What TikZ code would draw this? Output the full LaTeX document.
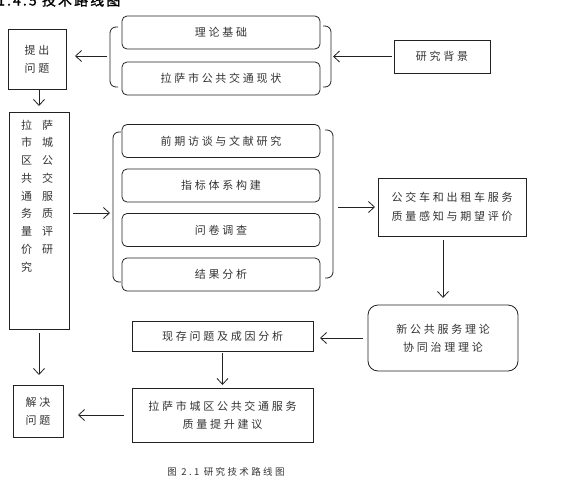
\documentclass[tikz,border=0pt]{standalone}
\usepackage{fontspec}
\setmainfont{Noto Sans CJK SC}[LetterSpace=25]
\newfontfamily\titlefont{Noto Sans CJK SC}[FakeBold=1.5,LetterSpace=15]
\usetikzlibrary{arrows.meta}
\definecolor{ink}{HTML}{222222}
\definecolor{txt}{HTML}{333333}
\tikzset{
  box/.style={draw=ink, line width=0.8pt, inner sep=0pt, outer sep=0pt, align=center, text=txt, font=\fontsize{11}{18}\selectfont},
  sbox/.style={box},
  rbox/.style={box, rounded corners=5pt},
  arr/.style={draw=ink, line width=0.8pt, -{Straight Barb[length=6pt,width=11pt]}},
  brk/.style={draw=ink, line width=0.8pt, rounded corners=6pt},
}
\begin{document}
\begin{tikzpicture}[x=1pt,y=-1pt]
\useasboundingbox (0,0) rectangle (574,482);
\begin{scope}
\clip (0,0) rectangle (574,482);
\node[anchor=base west, inner sep=0pt, text=black, font=\titlefont\fontsize{14}{18}\selectfont] (title) at (-3,5.5) {1.4.5 技术路线图};
\end{scope}
% top group
\node[sbox, minimum width=58, minimum height=60] (q1) at (37,59) {提出\\问题};
\node[rbox, minimum width=198, minimum height=33] (rb1) at (221,32.5) {理论基础};
\node[rbox, minimum width=198, minimum height=33] (rb2) at (221,78.5) {拉萨市公共交通现状};
\node[sbox, minimum width=96, minimum height=33] (bg) at (442,56.5) {研究背景};
\draw[brk] (118,27) -- (110,27) -- (110,87) -- (118,87);
\draw[brk] (323,26) -- (331,26) -- (331,87) -- (323,87);
\coordinate (L1) at (110,56);
\coordinate (R1) at (331,56.5);
\draw[arr, shorten <=2pt, shorten >=2pt] (bg.west) -- (R1);
\draw[arr, shorten <=3pt, shorten >=9pt] (L1) -- (L1 -| q1.east);
% big box
\node[sbox, minimum width=60, minimum height=217] (big) at (39,220.5) {};
\node[anchor=west, inner sep=0pt, align=left, text=txt, font=\fontsize{11}{17.75}\selectfont] (bigtext) at (21,196)
 {拉\hspace{10pt}萨\\市\hspace{10pt}城\\区\hspace{10pt}公\\共\hspace{10pt}交\\通\hspace{10pt}服\\务\hspace{10pt}质\\量\hspace{10pt}评\\价\hspace{10pt}研\\究};
\draw[arr, shorten >=6pt] (big.north |- q1.south) -- (big.north);
% middle group
\node[rbox, minimum width=198, minimum height=33] (m1) at (221,141) {前期访谈与文献研究};
\node[rbox, minimum width=198, minimum height=33] (m2) at (221,185.5) {指标体系构建};
\node[rbox, minimum width=198, minimum height=33] (m3) at (221,230) {问卷调查};
\node[rbox, minimum width=198, minimum height=33] (m4) at (221,274.5) {结果分析};
\draw[brk] (121,132) -- (113,132) -- (113,282) -- (121,282);
\draw[brk] (325,130) -- (333,130) -- (333,278) -- (325,278);
\coordinate (L2) at (113,213);
\coordinate (R2) at (333,207);
\draw[arr, shorten <=4pt, shorten >=3pt] (big.east |- L2) -- (L2);
\node[sbox, minimum width=148, minimum height=58, font=\fontsize{11}{19}\selectfont] (pj) at (452,207) {公交车和出租车服务\\质量感知与期望评价};
\draw[arr, shorten <=5pt, shorten >=3pt] (R2) -- (pj.west);
\node[box, rounded corners=10pt, minimum width=150, minimum height=66] (th) at (443,338) {新公共服务理论\\协同治理理论};
\draw[arr, shorten <=4pt, shorten >=7pt] (th.north |- pj.south) -- (th.north);
\node[sbox, minimum width=181, minimum height=30] (xc) at (222.5,336) {现存问题及成因分析};
\draw[arr, shorten <=5pt, shorten >=7pt] (th.west) -- (th.west -| xc.east);
\node[sbox, minimum width=181, minimum height=54] (jy) at (222.5,415) {拉萨市城区公共交通服务\\质量提升建议};
\draw[arr, shorten <=2pt, shorten >=3pt] (xc.south) -- (jy.north);
\node[sbox, minimum width=50, minimum height=52] (jj) at (38,411) {解决\\问题};
\draw[arr, shorten <=4pt, shorten >=10pt] (big.south) -- (big.south |- jj.north);
\draw[arr, shorten <=8pt, shorten >=15pt] (jy.west) -- (jy.west -| jj.east);
\node[text=txt, inner sep=0pt, font=\fontsize{9.5}{12}\selectfont] (cap) at (226,472) {图 2.1 研究技术路线图};
\end{tikzpicture}
\end{document}
